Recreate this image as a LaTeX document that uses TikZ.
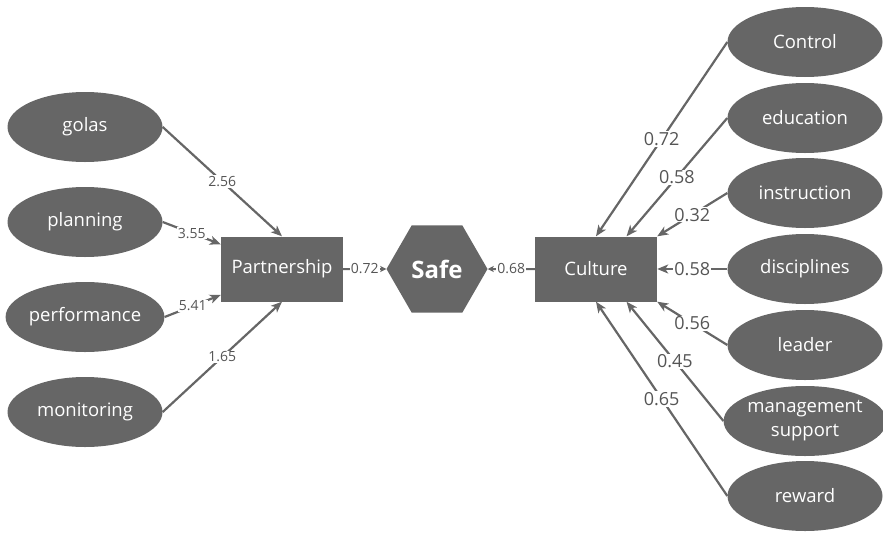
\documentclass[tikz,border=0pt]{standalone}
\usepackage{fontspec}
\setmainfont{Open Sans}
\usetikzlibrary{shapes.geometric,arrows.meta}
\definecolor{nodegray}{RGB}{102,102,102}
\definecolor{labelgray}{RGB}{85,85,85}

\begin{document}
\begin{tikzpicture}[x=1pt,y=-1pt,
    factor/.style={ellipse, fill=nodegray, text=white, minimum width=155pt, minimum height=70pt,
      inner sep=0pt, align=center, font=\fontsize{18.5}{24}\selectfont},
    construct/.style={rectangle, fill=nodegray, text=white, minimum width=122pt, minimum height=65pt,
      font=\fontsize{18.5}{20}\selectfont},
    link/.style={draw=nodegray, line width=2.2pt, -{Stealth[length=11pt,width=9pt,inset=3pt]}},
    shortlink/.style={draw=nodegray, line width=2pt, -{Stealth[length=6pt,width=6pt,inset=1.5pt]}},
    weight/.style={fill=white, text=labelgray, inner sep=1pt, font=\fontsize{14}{14}\selectfont},
    bigweight/.style={weight, font=\fontsize{18}{18}\selectfont}]
  \useasboundingbox (0,0) rectangle (883,533);

  % Partnership side
  \node[factor] (golas) at (85,127) {golas};
  \node[factor] (planning) at (85,222) {planning};
  \node[factor] (performance) at (85,317) {performance};
  \node[factor] (monitoring) at (85,412) {monitoring};
  \node[construct] (partner) at (282,269) {Partnership};

  % centre
  \node[regular polygon, regular polygon sides=6, fill=nodegray, text=white, minimum size=101pt,
    inner sep=0pt, font=\fontsize{24}{24}\selectfont\bfseries] (safe) at (437,269) {Safe};

  % Culture side
  \node[construct] (culture) at (596,269) {Culture};
  \node[factor] (control) at (805,42) {Control};
  \node[factor] (education) at (805,118) {education};
  \node[factor] (instruction) at (805,193) {instruction};
  \node[factor] (disciplines) at (805,269) {disciplines};
  \node[factor] (leader) at (805,345) {leader};
  \node[factor] (support) at (805,421) {management\\support};
  \node[factor] (reward) at (805,496) {reward};

  % paths into Partnership
  \draw[link] (golas.east) -- node[weight] {2.56} (partner.north);
  \draw[link] (planning.east) -- node[weight] {3.55} (partner.158);
  \draw[link] (performance.east) -- node[weight] {5.41} (partner.203);
  \draw[link] (monitoring.east) -- node[weight] {1.65} (partner.south);

  % paths into Safe
  \draw[shortlink] (partner.east) -- node[weight] {0.72} (safe.180);
  \draw[shortlink] (culture.west) -- node[weight] {0.68} (safe.0);

  % paths into Culture
  \draw[link] (control.west) -- node[bigweight] {0.72} (culture.north);
  \draw[link] (education.west) -- node[bigweight] {0.58} (culture.47);
  \draw[link] (instruction.west) -- node[bigweight] {0.32} (culture.north east);
  \draw[link] (disciplines.west) -- node[bigweight] {0.58} (culture.east);
  \draw[link] (leader.west) -- node[bigweight] {0.56} (culture.south east);
  \draw[link] (support.west) -- node[bigweight] {0.45} (culture.-47);
  \draw[link] (reward.west) -- node[bigweight] {0.65} (culture.south);
\end{tikzpicture}
\end{document}
